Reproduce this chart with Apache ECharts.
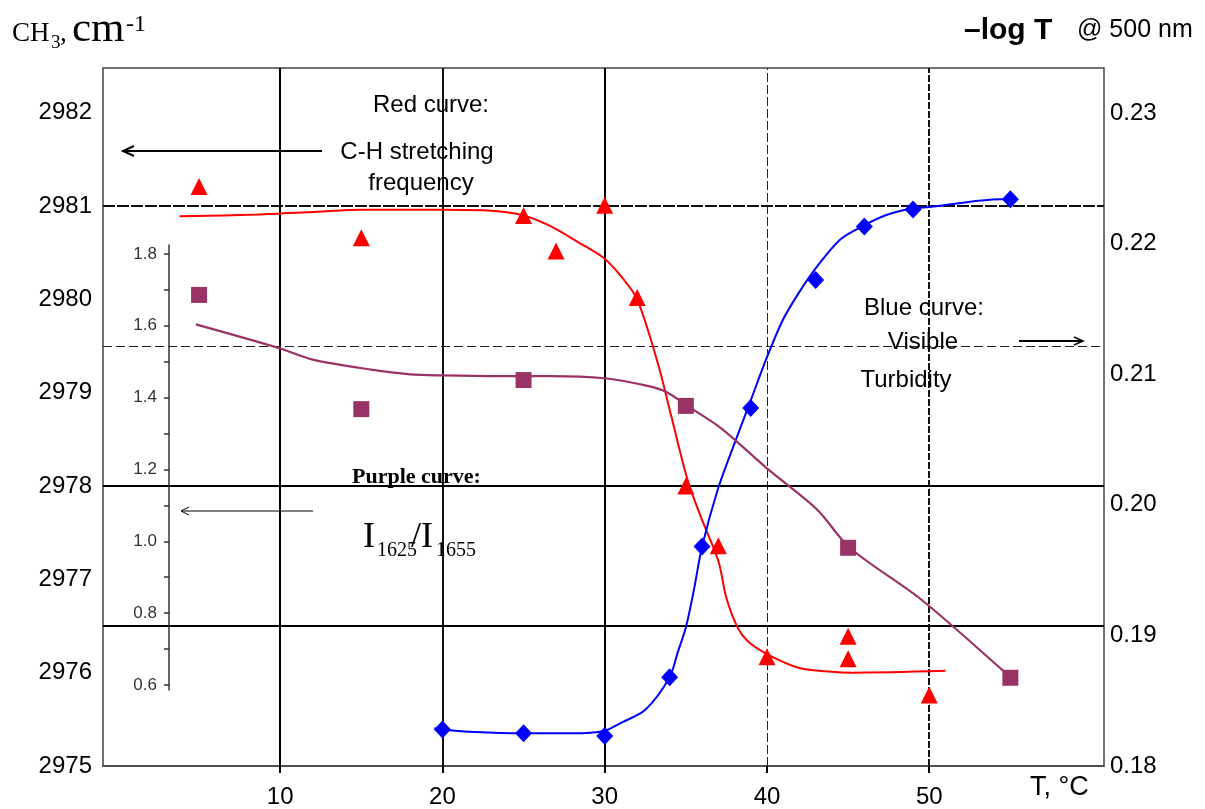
<!DOCTYPE html>
<html><head><meta charset="utf-8">
<script src="https://cdn.jsdelivr.net/npm/echarts@6/dist/echarts.min.js"></script>
<style>html,body{margin:0;padding:0;background:#fff}#c{width:1205px;height:809px}</style>
</head><body><div id="c"></div>
<script>
// ---- tick labels / gridlines ----
const xTickValues = [10, 20, 30, 40, 50];
const leftTickValues = [2975, 2976, 2977, 2978, 2979, 2980, 2981, 2982];
const rightTickValues = [0.18, 0.19, 0.20, 0.21, 0.22, 0.23];
const innerLabelValues = [0.6, 0.8, 1.0, 1.2, 1.4, 1.6, 1.8];
const innerTickValues = [0.6, 0.7, 0.8, 0.9, 1.0, 1.1, 1.2, 1.3, 1.4, 1.5, 1.6, 1.7, 1.8];
const vGridValues = [10, 20, 30, 40, 50];
const hGridValues = [2976.5, 2978, 2979.5, 2981];

// ---- red: C-H stretching frequency (left axis) ----
const redT = [5, 15, 25, 27, 30, 32, 35, 37, 40, 45, 45, 50];
const redV = [2981.21, 2980.66, 2980.90, 2980.52, 2981.01, 2980.02, 2978.00, 2977.36, 2976.17, 2976.39, 2976.15, 2975.76];
const redCurveT = [3.8, 8.6, 12.3, 15, 20, 23, 25, 26.6, 28.3, 29.9, 31, 32, 33.3, 34.1, 35.1, 35.9, 37, 37.5, 38.2, 38.8, 40, 42, 44, 45.2, 51];
const redCurveV = [2980.89, 2980.91, 2980.94, 2980.96, 2980.96, 2980.95, 2980.90, 2980.79, 2980.62, 2980.45, 2980.25, 2980.00, 2979.30, 2978.75, 2978.07, 2977.68, 2977.20, 2976.80, 2976.48, 2976.34, 2976.20, 2976.05, 2976.01, 2976.00, 2976.02];

// ---- blue: visible turbidity (right axis) ----
const blueT = [20, 25, 30, 34, 36, 39, 43, 46, 49, 55];
const blueV = [0.1828, 0.1825, 0.1823, 0.1868, 0.1968, 0.2074, 0.2172, 0.2213, 0.2226, 0.2234];
const blueCurveT = [19.5, 20, 22, 25, 28, 30, 31, 32.5, 34, 34.5, 35, 35.5, 36, 37, 38, 39, 40, 41, 42, 43, 44.5, 46, 47.4, 49, 50, 54.4, 55];
const blueCurveV = [0.1829, 0.1828, 0.1826, 0.1825, 0.1825, 0.1827, 0.1833, 0.1843, 0.1868, 0.1887, 0.1906, 0.1935, 0.1968, 0.2013, 0.2047, 0.2080, 0.2113, 0.2142, 0.2163, 0.2181, 0.2203, 0.2214, 0.2222, 0.2227, 0.2228, 0.2234, 0.2234];

// ---- purple: I1625/I1655 (inner axis) ----
const purpleT = [5, 15, 25, 35, 45, 55];
const purpleV = [1.686, 1.368, 1.449, 1.377, 0.982, 0.620];
const purpleCurveT = [4.8, 10, 12, 15.6, 18, 20, 23.5, 26.6, 30, 32.5, 33.8, 35.1, 37.2, 40, 43.1, 45.1, 49.5, 54.5, 55];
const purpleCurveV = [1.604, 1.537, 1.506, 1.478, 1.465, 1.462, 1.460, 1.460, 1.454, 1.434, 1.416, 1.377, 1.314, 1.203, 1.088, 0.982, 0.838, 0.642, 0.620];

const zip = (a, b) => a.map((v, i) => [v, b[i]]);

const vGridStyles = [
  {color: '#000', width: 2, type: 'solid'},
  {color: '#111', width: 2, type: 'solid'},
  {color: '#000', width: 2, type: 'solid'},
  {color: '#222', width: 1, type: [9, 3]},
  {color: '#111', width: 2, type: [7, 2]}
];
const hGridStyles = [
  {color: '#000', width: 2, type: 'solid'},
  {color: '#000', width: 2, type: 'solid'},
  {color: '#222', width: 1, type: [9, 4]},
  {color: '#111', width: 2, type: [12, 2]}
];

const chart = echarts.init(document.getElementById('c'), null, {renderer: 'canvas'});
const SANS = "'Liberation Sans', Arial, sans-serif";
const SERIF = "'Liberation Serif', 'Times New Roman', serif";

function txt(text, x, y, size, opts) {
  opts = opts || {};
  return {type: 'text', x: x, y: y, z: 100, silent: true,
    style: {text: text, fontSize: size, fontFamily: opts.family || SANS, fontWeight: opts.weight || 'normal',
      fill: '#000', align: opts.align || 'left', verticalAlign: 'middle'}};
}
function ln(x1, y1, x2, y2, w) {
  return {type: 'line', z: 100, silent: true, shape: {x1, y1, x2, y2}, style: {stroke: '#000', lineWidth: w}};
}
function head(points, w) {
  return {type: 'polyline', z: 100, silent: true, shape: {points: points}, style: {stroke: '#000', lineWidth: w, fill: null}};
}

const option = {
  animation: false,
  backgroundColor: '#fff',
  grid: [
    {left: 103, right: 101, top: 68, bottom: 42, show: true, borderColor: '#444', borderWidth: 1.5, backgroundColor: 'transparent'},
    {left: 103, right: 101, top: 245, bottom: 119, show: false}
  ],
  xAxis: [
    {type: 'value', gridIndex: 0, min: -0.92, max: 60.77,
      axisLine: {show: true, lineStyle: {color: '#444', width: 1.5}},
      axisTick: {show: true, customValues: xTickValues, length: 7, lineStyle: {color: '#000', width: 2}},
      axisLabel: {customValues: xTickValues, fontSize: 24, fontFamily: SANS, color: '#000', margin: 19},
      splitLine: {show: false}},
    {type: 'value', gridIndex: 1, min: -0.92, max: 60.77, show: false, splitLine: {show: false}}
  ],
  yAxis: [
    {type: 'value', gridIndex: 0, position: 'left', min: 2975, max: 2982.48,
      axisLine: {show: false}, axisTick: {show: false}, splitLine: {show: false},
      axisLabel: {customValues: leftTickValues, fontSize: 24, fontFamily: SANS, color: '#000', margin: 11,
        formatter: v => String(Math.round(v))}},
    {type: 'value', gridIndex: 0, position: 'right', min: 0.18, max: 0.23344,
      axisLine: {show: false}, axisTick: {show: false}, splitLine: {show: false},
      axisLabel: {customValues: rightTickValues, fontSize: 24, fontFamily: SANS, color: '#000', margin: 6,
        formatter: v => v.toFixed(2)}},
    {type: 'value', gridIndex: 1, position: 'left', offset: -66, min: 0.586, max: 1.825,
      axisLine: {show: true, lineStyle: {color: '#333', width: 1.5}},
      axisTick: {show: true, customValues: innerTickValues, length: 5, lineStyle: {color: '#333', width: 1.5}},
      splitLine: {show: false},
      axisLabel: {customValues: innerLabelValues, fontSize: 17, fontFamily: SANS, color: '#333', margin: 12,
        formatter: v => v.toFixed(1)}}
  ],
  series: [
    {name: 'red curve', type: 'line', xAxisIndex: 0, yAxisIndex: 0, data: zip(redCurveT, redCurveV),
      smooth: 0.3, showSymbol: false, symbol: 'none', z: 3,
      lineStyle: {color: '#FF0000', width: 2},
      markLine: {silent: true, z: 1, symbol: ['none', 'none'], label: {show: false}, animation: false,
        emphasis: {disabled: true},
        data: vGridValues.map((v, i) => ({xAxis: v, lineStyle: vGridStyles[i]}))
          .concat(hGridValues.map((v, i) => ({yAxis: v, lineStyle: hGridStyles[i]})))}},
    {name: 'red points', type: 'scatter', xAxisIndex: 0, yAxisIndex: 0, data: zip(redT, redV),
      symbol: 'triangle', symbolSize: 17, itemStyle: {color: '#FF0000', opacity: 1}, z: 5},
    {name: 'blue curve', type: 'line', xAxisIndex: 0, yAxisIndex: 1, data: zip(blueCurveT, blueCurveV),
      smooth: 0.3, showSymbol: false, symbol: 'none', z: 3,
      lineStyle: {color: '#0000FF', width: 2}},
    {name: 'blue points', type: 'scatter', xAxisIndex: 0, yAxisIndex: 1, data: zip(blueT, blueV),
      symbol: 'diamond', symbolSize: [17, 18], itemStyle: {color: '#0000FF', opacity: 1}, z: 5},
    {name: 'purple curve', type: 'line', xAxisIndex: 1, yAxisIndex: 2, data: zip(purpleCurveT, purpleCurveV),
      smooth: 0.3, showSymbol: false, symbol: 'none', z: 3,
      lineStyle: {color: '#993366', width: 2.2}},
    {name: 'purple points', type: 'scatter', xAxisIndex: 1, yAxisIndex: 2, data: zip(purpleT, purpleV),
      symbol: 'rect', symbolSize: 16, itemStyle: {color: '#993366', opacity: 1}, z: 5}
  ],
  graphic: [
    txt('CH', 12, 34, 27, {family: SERIF}),
    txt('3', 51, 43, 19, {family: SERIF}),
    txt(',', 60, 34, 27, {family: SERIF}),
    txt('cm', 72, 30, 43, {family: SERIF}),
    txt('-1', 126, 25, 24, {family: SERIF}),
    txt('\u2013log T', 964, 31, 30, {weight: 'bold'}),
    txt('@ 500 nm', 1077, 30, 25),
    txt('T, \u00B0C', 1030, 788, 27),
    txt('Red curve:', 431, 105, 24, {align: 'center'}),
    txt('C-H stretching', 417, 152, 24, {align: 'center'}),
    txt('frequency', 421, 183, 24, {align: 'center'}),
    ln(322, 151, 124, 151, 2),
    head([[134, 146], [123, 151], [134, 156]], 2),
    txt('Blue curve:', 924, 308, 24, {align: 'center'}),
    txt('Visible', 923, 342, 24, {align: 'center'}),
    txt('Turbidity', 906, 380, 24, {align: 'center'}),
    ln(1019, 341, 1082, 341, 2),
    head([[1074, 337], [1083, 341], [1074, 345]], 1.5),
    txt('Purple curve:', 352, 477, 22, {family: SERIF, weight: 'bold'}),
    ln(313, 511, 182, 511, 1),
    head([[189, 507], [181, 511], [189, 515]], 1),
    txt('I', 363, 538, 36, {family: SERIF}),
    txt('1625', 377, 551, 20, {family: SERIF}),
    txt('/I', 411, 538, 36, {family: SERIF}),
    txt('1655', 436, 551, 20, {family: SERIF})
  ]
};
chart.setOption(option);
</script></body></html>
